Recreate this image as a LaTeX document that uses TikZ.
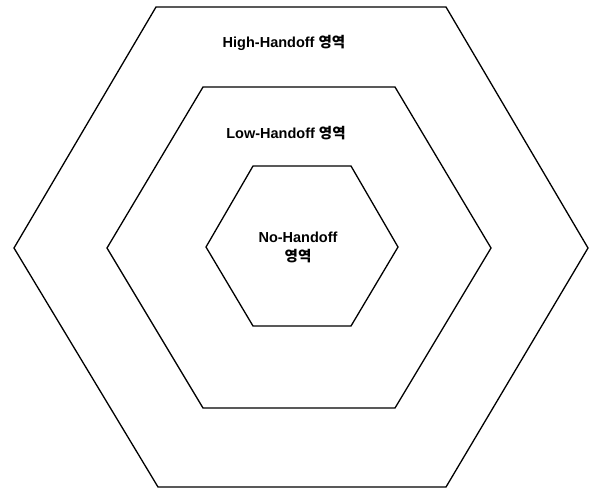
\documentclass[tikz,border=0pt]{standalone}
\usepackage{fontspec}
\setmainfont{Liberation Sans}
\newfontfamily\kr{Noto Sans CJK KR}
\tikzset{
  hexline/.style={draw=black, line width=1.3pt, line join=miter},
  zonelabel/.style={font=\bfseries\fontsize{14.5}{19}\selectfont, inner sep=0pt, align=center}
}
\begin{document}
\begin{tikzpicture}[x=1pt,y=-1pt]
\useasboundingbox (0,0) rectangle (591,488);
% outer
\draw[hexline] (14,248) -- (156,7) -- (446,7) -- (588,248) -- (446,487) -- (158,487) -- cycle;
% middle
\draw[hexline] (107,248) -- (203,87) -- (395,87) -- (491,248) -- (395,408) -- (203,408) -- cycle;
% inner
\draw[hexline] (206,247) -- (253,166) -- (351,166) -- (398,247) -- (351,326) -- (253,326) -- cycle;
\node[zonelabel] (high) at (284,43) {High-Handoff {\kr 영역}};
\node[zonelabel] (low) at (286,133) {Low-Handoff {\kr 영역}};
\node[zonelabel] (no) at (298,247) {No-Handoff\\{\kr 영역}};
\end{tikzpicture}
\end{document}
